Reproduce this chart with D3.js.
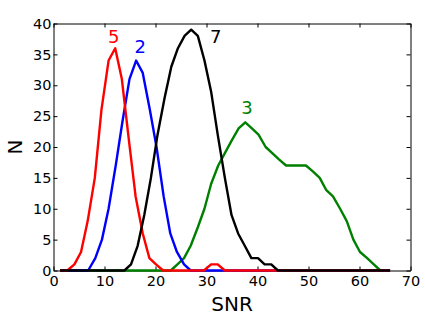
<!DOCTYPE html>
<html lang="en">
	<head>
		<meta charset="utf-8">
		<title>SNR histogram</title>
		<script type="text/javascript" src="https://d3js.org/d3.v7.min.js"></script>
		<style type="text/css">
            body{margin:0;background:#fff;font-family:"DejaVu Sans",sans-serif;}
            .axis text{font-family:"DejaVu Sans",sans-serif;font-size:14.5px;fill:#000;}
            .axis path,.axis line{stroke:#000;}
		</style>
	</head>
	<body>
    <div id="chart1"></div>
		 <script type="text/javascript">
            //values, one list per curve
            var snr5 = [1.3, 2.7, 4.1, 5.4, 6.7, 8.1, 9.4, 10.8, 12.1, 13.4, 14.8, 16.1, 17.5, 18.8, 20.1, 21.5, 29.5, 30.9, 32.2, 33.6, 66.0]
            var n5   = [0, 0, 1, 3, 8, 15, 26, 34, 36, 31, 21, 12, 6, 2, 1, 0, 0, 1, 1, 0, 0]

            var snr2 = [1.3, 6.8, 8.2, 9.5, 10.8, 12.2, 13.5, 14.9, 16.2, 17.5, 18.9, 20.2, 21.6, 22.9, 24.2, 25.6, 26.9, 66.0]
            var n2   = [0, 0, 2, 5, 10, 17, 24, 31, 34, 32, 26, 20, 12, 6, 3, 1, 0, 0]

            var snr7 = [1.3, 13.9, 15.2, 16.5, 17.8, 19.1, 20.4, 21.8, 23.1, 24.4, 25.7, 27.0, 28.3, 29.6, 30.9, 32.2, 33.6, 34.9, 36.2, 37.5, 38.8, 40.1, 41.4, 42.7, 44.0, 66.0]
            var n7   = [0, 0, 1, 4, 9, 15, 22, 28, 33, 36, 38, 39, 38, 34, 29, 22, 15, 9, 6, 4, 2, 2, 1, 1, 0, 0]

            var snr3 = [1.3, 23.0, 24.3, 25.6, 26.9, 28.3, 29.6, 30.9, 32.3, 33.6, 34.9, 36.3, 37.6, 38.9, 40.2, 41.6, 42.9, 44.2, 45.6, 46.9, 48.2, 49.5, 50.9, 52.2, 53.5, 54.8, 56.2, 57.5, 58.8, 60.1, 61.5, 62.8, 64.1]
            var n3   = [0, 0, 1, 2, 4, 7, 10, 14, 17, 19, 21, 23, 24, 23, 22, 20, 19, 18, 17, 17, 17, 17, 16, 15, 13, 12, 10, 8, 5, 3, 2, 1, 0]

            //curve names, drawn bottom to top
            var names   = ["3", "2", "5", "7"]
            var colors  = ["#008000", "#0000ff", "#ff0000", "#000000"]
            var labelX  = [36.8, 15.9, 10.7, 30.7]
            var labelY  = [25.3, 35.2, 36.8, 36.9]

            var xTicks = [0, 10, 20, 30, 40, 50, 60, 70]
            var yTicks = [0, 5, 10, 15, 20, 25, 30, 35, 40]

            var series = [
                {x: snr3, y: n3},
                {x: snr2, y: n2},
                {x: snr5, y: n5},
                {x: snr7, y: n7}
            ]

            var W = 425
            var H = 322
            //plot box edges (note: "top" is taken by window.top)
            var pLeft = 53.5, pRight = 410.5, pTop = 23.5, pBottom = 270.5

            var svg = d3.select("#chart1")
                        .append("svg")
                        .attr("width", W)
                        .attr("height", H)

            var xScale = d3.scaleLinear().domain([0, 70]).range([pLeft, pRight])
            var yScale = d3.scaleLinear().domain([0, 40]).range([pBottom, pTop])

            //ticks point inwards on all four sides
            svg.append("g")
                .attr("class", "axis")
                .attr("transform", "translate(0," + pBottom + ")")
                .call(d3.axisBottom(xScale).tickValues(xTicks).tickSizeInner(-4).tickSizeOuter(0).tickPadding(5))
            svg.append("g")
                .attr("class", "axis")
                .attr("transform", "translate(0," + pTop + ")")
                .call(d3.axisTop(xScale).tickValues(xTicks).tickSizeInner(-4).tickSizeOuter(0).tickFormat(""))
            svg.append("g")
                .attr("class", "axis")
                .attr("transform", "translate(" + pLeft + ",0)")
                .call(d3.axisLeft(yScale).tickValues(yTicks).tickSizeInner(-4).tickSizeOuter(0).tickPadding(2))
            svg.append("g")
                .attr("class", "axis")
                .attr("transform", "translate(" + pRight + ",0)")
                .call(d3.axisRight(yScale).tickValues(yTicks).tickSizeInner(-4).tickSizeOuter(0).tickFormat(""))

            svg.selectAll(".axis .tick text").attr("fill", "#000")
            svg.selectAll(".axis .domain").attr("stroke", "#000")

            var line = d3.line()
                .x(function(d){ return xScale(d[0]) })
                .y(function(d){ return yScale(d[1]) })

            svg.selectAll(".curve")
                .data(series)
                .enter()
                .append("path")
                .attr("class", "curve")
                .attr("fill", "none")
                .attr("stroke", function(d, i){ return colors[i] })
                .attr("stroke-width", 2.4)
                .attr("stroke-linejoin", "round")
                .attr("d", function(d){
                    return line(d.x.map(function(v, j){ return [v, d.y[j]] }))
                })

            //curve numbers next to the peaks
            svg.selectAll(".label")
                .data(names)
                .enter()
                .append("text")
                .attr("class", "label")
                .attr("x", function(d, i){ return xScale(labelX[i]) })
                .attr("y", function(d, i){ return yScale(labelY[i]) })
                .attr("fill", function(d, i){ return colors[i] })
                .style("font-size", "18px")
                .text(function(d){ return d })

            //axis titles
            svg.append("text")
                .attr("x", (pLeft + pRight) / 2)
                .attr("y", 311)
                .attr("text-anchor", "middle")
                .style("font-size", "20px")
                .text("SNR")
            svg.append("text")
                .attr("transform", "translate(22," + ((pTop + pBottom) / 2) + ") rotate(-90)")
                .attr("text-anchor", "middle")
                .style("font-size", "20px")
                .text("N")
		</script>
	</body>
</html>
